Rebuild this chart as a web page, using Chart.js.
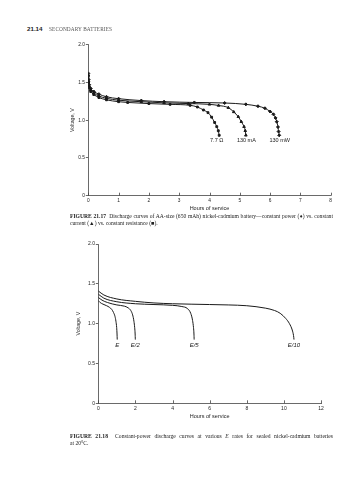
<!DOCTYPE html>
<html><head><meta charset="utf-8">
<script src="https://cdn.jsdelivr.net/npm/chart.js@4"></script>
<style>
html,body{margin:0;padding:0;background:#fff;}
body{width:358px;height:480px;position:relative;overflow:hidden;}
.hdr{position:absolute;left:27px;top:25px;font-family:"Liberation Sans",Arial,sans-serif;font-weight:bold;font-size:6.2px;color:#222;}
.hdr2{position:absolute;left:49px;top:26px;font-family:"Liberation Serif",serif;font-size:5.3px;color:#555;letter-spacing:0.1px;opacity:0.99;will-change:transform}
.cap{position:absolute;left:70px;width:263px;font-family:"Liberation Serif","Times New Roman",serif;font-size:5.6px;color:#222;line-height:7px;white-space:nowrap}
.just{text-align:justify;text-align-last:justify;white-space:normal}
canvas{position:absolute}
</style></head><body>
<div class="hdr">21.14</div>
<div class="hdr2">SECONDARY BATTERIES</div>
<canvas id="c1" width="310" height="190" style="left:40px;top:30px;width:310px;height:190px"></canvas>
<div class="cap just" style="top:213px"><b>FIGURE 21.17</b>&nbsp; Discharge curves of AA-size (650 mAh) nickel-cadmium battery—constant power (♦) vs. constant</div>
<div class="cap" style="top:220px">current (▲) vs. constant resistance (■).</div>
<canvas id="c2" width="310" height="195" style="left:40px;top:232px;width:310px;height:195px"></canvas>
<div class="cap just" style="top:433px"><b>FIGURE 21.18</b>&nbsp; Constant-power discharge curves at various <i>E</i> rates for sealed nickel-cadmium batteries</div>
<div class="cap" style="top:440px">at 20°C.</div>
<script>
// ---- Figure 21.17 data ----
const fig1Labels = ['7.7 Ω', '130 mA', '130 mW'];
const r77Hours = [0, 0.01, 0.03, 0.08, 0.18, 0.35, 0.6, 1.0, 1.3, 2.0, 2.7, 3.36, 3.6, 3.8, 3.95, 4.07, 4.17, 4.24, 4.29, 4.32];
const r77Volts = [1.58, 1.50, 1.43, 1.38, 1.34, 1.30, 1.27, 1.245, 1.235, 1.22, 1.21, 1.197, 1.175, 1.135, 1.10, 1.04, 0.97, 0.914, 0.86, 0.80];
const ma130Hours = [0, 0.01, 0.03, 0.08, 0.18, 0.35, 0.6, 1.0, 1.75, 2.5, 3.3, 4.0, 4.3, 4.62, 4.8, 4.95, 5.05, 5.14, 5.18, 5.2];
const ma130Volts = [1.60, 1.52, 1.45, 1.40, 1.36, 1.32, 1.29, 1.265, 1.245, 1.23, 1.22, 1.21, 1.195, 1.166, 1.11, 1.046, 0.98, 0.914, 0.86, 0.80];
const mw130Hours = [0, 0.01, 0.03, 0.08, 0.18, 0.35, 0.6, 1.0, 1.75, 2.5, 3.5, 4.5, 5.2, 5.6, 5.83, 6.0, 6.11, 6.18, 6.22, 6.26, 6.28, 6.3];
const mw130Volts = [1.62, 1.54, 1.47, 1.42, 1.38, 1.345, 1.31, 1.285, 1.26, 1.245, 1.235, 1.228, 1.21, 1.185, 1.158, 1.115, 1.078, 1.03, 0.98, 0.91, 0.85, 0.80];
const fig1XTicks = [0, 1, 2, 3, 4, 5, 6, 7, 8];
const fig1YTicks = ['0', '0.5', '1.0', '1.5', '2.0'];

// ---- Figure 21.18 data ----
const fig2Labels = ['E', 'E/2', 'E/5', 'E/10'];
const eHours = [0, 0.1, 0.25, 0.45, 0.6, 0.72, 0.82, 0.9, 0.95, 0.99, 1.01, 1.02];
const eVolts = [1.29, 1.265, 1.245, 1.225, 1.205, 1.18, 1.14, 1.09, 1.03, 0.95, 0.87, 0.80];
const e2Hours = [0, 0.2, 0.5, 1.0, 1.4, 1.6, 1.75, 1.85, 1.92, 1.96, 1.985, 1.995];
const e2Volts = [1.33, 1.295, 1.265, 1.235, 1.22, 1.20, 1.165, 1.11, 1.03, 0.95, 0.87, 0.80];
const e5Hours = [0, 0.3, 1, 2, 3, 4, 4.5, 4.8, 4.98, 5.08, 5.13, 5.155, 5.165];
const e5Volts = [1.37, 1.32, 1.275, 1.25, 1.24, 1.23, 1.215, 1.19, 1.13, 1.04, 0.95, 0.87, 0.80];
const e10Hours = [0, 0.3, 1, 2, 3, 4, 6, 7, 8, 9, 9.5, 9.8, 10.1, 10.3, 10.45, 10.52, 10.545];
const e10Volts = [1.41, 1.36, 1.31, 1.28, 1.26, 1.25, 1.24, 1.235, 1.225, 1.195, 1.165, 1.13, 1.065, 1.0, 0.92, 0.85, 0.80];
const fig2XTicks = [0, 2, 4, 6, 8, 10, 12];
const fig2YTicks = ['0', '0.5', '1.0', '1.5', '2.0'];

Chart.defaults.font.family = '"Liberation Sans", Arial, sans-serif';
Chart.defaults.color = '#222';
const INK = '#1a1a1a', AXIS = '#444';

function pts(h, v) { return h.map((x, i) => ({ x: x, y: v[i] })); }

const innerTicks = {
  id: 'innerTicks',
  afterDraw(chart) {
    const xs = chart.scales.x, ys = chart.scales.y, ctx = chart.ctx;
    ctx.save(); ctx.strokeStyle = AXIS; ctx.lineWidth = 0.8;
    xs.ticks.forEach((t, i) => {
      const px = Math.round(xs.getPixelForTick(i)) + 0.5;
      ctx.beginPath(); ctx.moveTo(px, ys.bottom); ctx.lineTo(px, ys.bottom - 3); ctx.stroke();
    });
    ctx.restore();
  }
};
const endLabels = {
  id: 'endLabels',
  afterDatasetsDraw(chart, args, opts) {
    const ctx = chart.ctx, xs = chart.scales.x, ys = chart.scales.y;
    ctx.save(); ctx.fillStyle = INK; ctx.font = opts.font; ctx.textAlign = 'center'; ctx.textBaseline = 'middle';
    chart.data.datasets.forEach((ds, i) => {
      const last = ds.data[ds.data.length - 1];
      const off = opts.offsets[i];
      ctx.fillText(ds.label, xs.getPixelForValue(last.x) + off[0], ys.getPixelForValue(last.y) + off[1]);
    });
    ctx.restore();
  }
};

function axes(cfg) {
  return {
    x: {
      type: 'linear', min: cfg.xTicks[0], max: cfg.xTicks[cfg.xTicks.length - 1],
      afterBuildTicks: s => { s.ticks = cfg.xTicks.map(v => ({ value: v })); },
      afterFit: s => { s.height = cfg.xH; },
      ticks: { font: { size: cfg.tickSize }, padding: cfg.xPad, color: '#222', callback: v => String(v), maxRotation: 0, autoSkip: false },
      grid: { drawOnChartArea: false, drawTicks: false },
      border: { color: AXIS, width: 0.8 },
      title: { display: true, text: 'Hours of service', font: { size: 5.5 }, color: '#222', padding: { top: 0, bottom: cfg.xTitlePad } }
    },
    y: {
      type: 'linear', min: 0, max: 2,
      afterBuildTicks: s => { s.ticks = cfg.yTicks.map(t => ({ value: parseFloat(t) })); },
      afterFit: s => { s.width = cfg.yW; },
      ticks: { font: { size: cfg.tickSize }, padding: cfg.yPad, color: '#222', autoSkip: false,
        callback: (v, i) => cfg.yTicks[i] },
      grid: { drawOnChartArea: false, drawTicks: true, tickLength: 2.5, color: AXIS, lineWidth: 0.8 },
      border: { color: AXIS, width: 0.8 },
      title: { display: true, text: 'Voltage, V', font: { size: 5.2 }, color: '#222', padding: { top: cfg.yTitlePad, bottom: 0 } }
    }
  };
}

const lineStyle = { borderColor: INK, backgroundColor: INK, borderWidth: 1, cubicInterpolationMode: 'monotone', fill: false };

new Chart(document.getElementById('c1'), {
  type: 'line',
  data: {
    datasets: [
      Object.assign({ label: fig1Labels[0], data: pts(r77Hours, r77Volts), pointStyle: 'rect', pointRadius: 1.3 }, lineStyle),
      Object.assign({ label: fig1Labels[1], data: pts(ma130Hours, ma130Volts), pointStyle: 'triangle', pointRadius: 1.5 }, lineStyle),
      Object.assign({ label: fig1Labels[2], data: pts(mw130Hours, mw130Volts), pointStyle: 'rectRot', pointRadius: 1.5 }, lineStyle)
    ]
  },
  options: {
    responsive: false, animation: false, devicePixelRatio: 1,
    layout: { padding: { left: 0, right: 19.3, top: 14.7, bottom: 0 } },
    plugins: { legend: { display: false }, tooltip: { enabled: false },
      endLabels: { font: '5.5px "Liberation Sans", Arial, sans-serif', offsets: [[-2.5, 5], [0.5, 5], [0.5, 5]] } },
    scales: axes({ xTicks: fig1XTicks, yTicks: fig1YTicks, xH: 24.3, yW: 48.3, tickSize: 4.8, xPad: 2, yPad: 0.8, xTitlePad: 8.0, yTitlePad: 29.6 })
  },
  plugins: [innerTicks, endLabels]
});

new Chart(document.getElementById('c2'), {
  type: 'line',
  data: {
    datasets: [
      Object.assign({ label: fig2Labels[0], data: pts(eHours, eVolts), pointRadius: 0 }, lineStyle),
      Object.assign({ label: fig2Labels[1], data: pts(e2Hours, e2Volts), pointRadius: 0 }, lineStyle),
      Object.assign({ label: fig2Labels[2], data: pts(e5Hours, e5Volts), pointRadius: 0 }, lineStyle),
      Object.assign({ label: fig2Labels[3], data: pts(e10Hours, e10Volts), pointRadius: 0 }, lineStyle)
    ]
  },
  options: {
    responsive: false, animation: false, devicePixelRatio: 1,
    layout: { padding: { left: 0, right: 29, top: 12, bottom: 0 } },
    plugins: { legend: { display: false }, tooltip: { enabled: false },
      endLabels: { font: 'italic 6px "Liberation Sans", Arial, sans-serif', offsets: [[0, 6], [0, 6], [0, 6], [0, 6]] } },
    scales: axes({ xTicks: fig2XTicks, yTicks: fig2YTicks, xH: 23.7, yW: 58.3, tickSize: 5, xPad: 2.5, yPad: 0.8, xTitlePad: 7.0, yTitlePad: 35.2 })
  },
  plugins: [innerTicks, endLabels]
});
</script>
</body></html>
